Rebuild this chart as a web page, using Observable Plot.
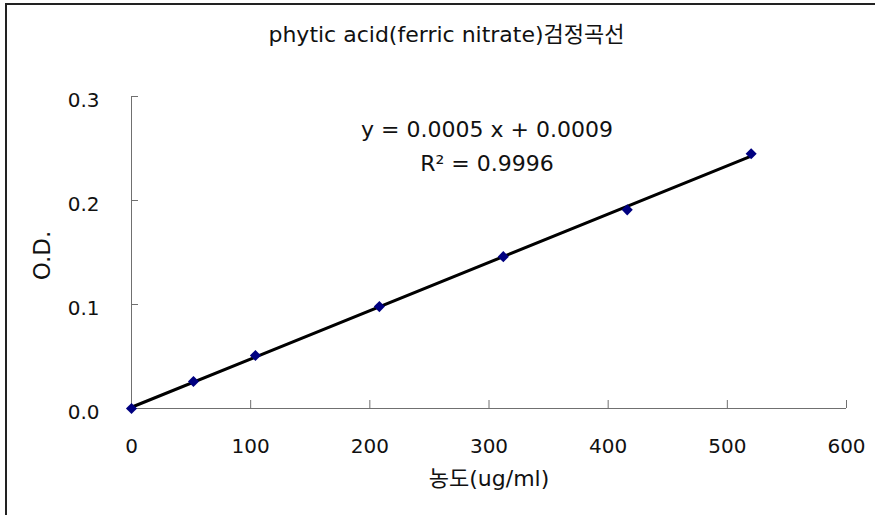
<!DOCTYPE html>
<html><head><meta charset="utf-8">
<script src="https://cdn.jsdelivr.net/npm/d3@7"></script>
<script src="https://cdn.jsdelivr.net/npm/@observablehq/plot@0.6"></script>
<style>
body{margin:0;background:#fff;}
#wrap{position:relative;width:875px;height:515px;overflow:hidden;background:#fff;}
#frame{position:absolute;left:5px;top:3px;width:900px;height:600px;border-left:2px solid #222;border-top:2px solid #222;pointer-events:none;}
#title{position:absolute;left:9px;width:875px;top:16px;text-align:center;font-size:22px;font-family:"DejaVu Sans","Noto Sans CJK KR",sans-serif;color:#111;}
#chart{position:absolute;left:0;top:0;}
</style></head>
<body>
<div id="wrap"><div id="chart"></div><div id="title"></div><div id="frame"></div></div>
<script>
const titleText = "phytic acid(ferric nitrate)검정곡선";
const concentration = [0, 52, 104, 208, 312, 416, 520];
const od = [0, 0.026, 0.051, 0.098, 0.146, 0.191, 0.245];
const xTicks = [0, 100, 200, 300, 400, 500, 600];
const yTicks = [0, 0.1, 0.2, 0.3];
const xLabel = "농도(ug/ml)";
const yLabel = "O.D.";
const equationLines = ["y = 0.0005 x + 0.0009", "R² = 0.9996"];

document.getElementById("title").textContent = titleText;
const data = concentration.map((c, i) => ({c, od: od[i]}));
const axisColor = "#707070";
const font = "DejaVu Sans, Noto Sans CJK KR, sans-serif";

const chart = Plot.plot({
  width: 875, height: 515,
  marginLeft: 131, marginRight: 29, marginTop: 96, marginBottom: 107,
  style: {fontFamily: font, background: "transparent", color: "#111"},
  x: {domain: [0, 600]},
  y: {domain: [0, 0.3]},
  marks: [
    Plot.ruleX([0], {stroke: axisColor}),
    Plot.ruleY([0], {stroke: axisColor}),
    Plot.axisX({ticks: xTicks, tickSize: -8, tickFormat: () => "", stroke: axisColor, label: null}),
    Plot.axisY({ticks: yTicks, tickSize: -7, tickFormat: () => "", stroke: axisColor, label: null}),
    Plot.axisX({ticks: xTicks, tickSize: 0, tickPadding: 30, tickFormat: d => String(d), fontSize: 20, fill: "#111", label: null}),
    Plot.axisY({ticks: yTicks, tickSize: 0, tickPadding: 32, dy: 4, tickFormat: d3.format(".1f"), fontSize: 20, fill: "#111", label: null}),
    Plot.text([xLabel], {frameAnchor: "bottom", dy: 70, lineAnchor: "middle", fontSize: 22, fill: "#111"}),
    Plot.text([yLabel], {frameAnchor: "left", textAnchor: "middle", dx: -89, dy: 3, rotate: -90, lineAnchor: "middle", fontSize: 23, fill: "#111"}),
    Plot.linearRegressionY(data, {x: "c", y: "od", stroke: "black", strokeWidth: 3, ci: 0}),
    Plot.dot(data, {x: "c", y: "od", symbol: "diamond2", r: 5, fill: "#000080", stroke: "none"}),
    Plot.text([equationLines.join("\n")], {frameAnchor: "top", dx: -2, dy: 16, lineAnchor: "top", lineHeight: 1.55, fontSize: 22, fill: "#111"})
  ]
});
document.getElementById("chart").appendChild(chart);
</script>
</body></html>
